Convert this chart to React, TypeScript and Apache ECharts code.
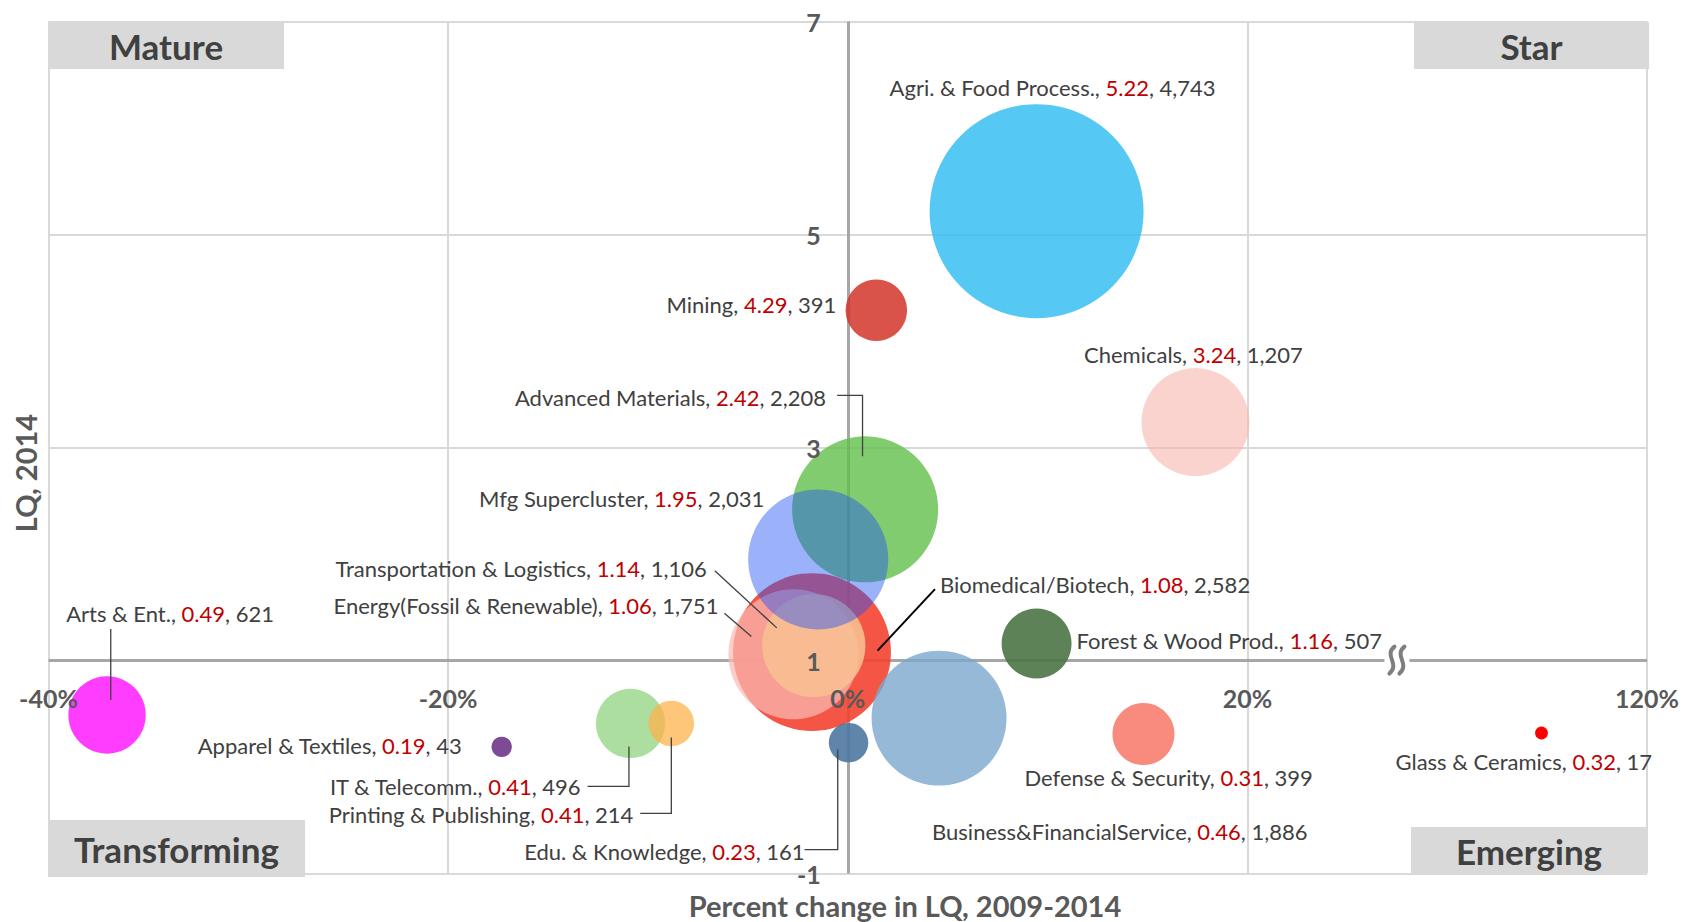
import React, { useEffect, useRef } from "react";
import * as echarts from "echarts";

// ---------- data ----------
const CLUSTERS = [
  "Agri. & Food Process.",
  "Mining",
  "Chemicals",
  "Advanced Materials",
  "Biomedical/Biotech",
  "Energy(Fossil & Renewable)",
  "Transportation & Logistics",
  "Mfg Supercluster",
  "Forest & Wood Prod.",
  "Arts & Ent.",
  "Apparel & Textiles",
  "IT & Telecomm.",
  "Printing & Publishing",
  "Edu. & Knowledge",
  "Business&FinancialService",
  "Defense & Security",
  "Glass & Ceramics",
];
// percent change in LQ, 2009-2014
const PCT_CHANGE = [9.45, 1.43, 17.4, 0.87, -1.79, -2.72, -1.7, -1.48, 9.45, -37.07, -17.32, -10.87, -8.83, 0.04, 4.57, 14.8, 93.6];
// LQ, 2014
const LQ_2014 = [5.22, 4.29, 3.24, 2.42, 1.08, 1.06, 1.14, 1.95, 1.16, 0.49, 0.19, 0.41, 0.41, 0.23, 0.46, 0.31, 0.32];
// employment
const EMPLOYMENT = [4743, 391, 1207, 2208, 2582, 1751, 1106, 2031, 507, 621, 43, 496, 214, 161, 1886, 399, 17];

const X_TICK_LABELS = ["-40%", "-20%", "0%", "20%", "120%"];
const Y_TICK_LABELS = ["-1", "1", "3", "5", "7"];

// ---------- styles ----------
const COLORS = [
  "rgba(44,186,241,0.8)",
  "rgba(210,53,42,0.85)",
  "rgba(247,180,173,0.6)",
  "rgba(96,191,74,0.8)",
  "rgba(244,66,49,0.9)",
  "rgba(249,187,180,0.72)",
  "rgba(248,192,146,0.88)",
  "rgba(34,85,244,0.45)",
  "rgba(76,116,69,0.9)",
  "rgba(255,51,255,0.95)",
  "rgba(118,64,142,0.95)",
  "rgba(151,214,136,0.8)",
  "rgba(252,179,75,0.75)",
  "rgba(78,120,162,0.9)",
  "rgba(124,168,205,0.8)",
  "rgba(247,122,108,0.88)",
  "rgba(255,0,0,1)",
];
// label anchor offset from bubble centre [dx, dy, align]
const LABEL_LAYOUT: [number, number, string][] = [
  [16, -124, "center"],
  [-40, -6, "right"],
  [-2, -68, "center"],
  [-39, -112, "right"],
  [128, -68, "left"],
  [-75, -49, "right"],
  [-107, -77, "right"],
  [-54, -61, "right"],
  [40, -3, "left"],
  [63, -101, "center"],
  [-40, -1, "right"],
  [-50, 63, "right"],
  [-38, 91, "right"],
  [-44, 109, "right"],
  [-7, 113, "left"],
  [-119, 43, "left"],
  [-146, 28, "left"],
];
// leader lines relative to bubble centre
const LEADERS: ([number, number][] | null)[] = [
  null,
  null,
  null,
  [[-28, -114], [-2.6, -114], [-2.6, -53]],
  [[123, -63], [65.6, -1.5]],
  [[-69, -41], [-42, -17.6]],
  [[-99, -75], [-37, -17.8]],
  null,
  null,
  [[3.7, -86], [3.7, -15]],
  null,
  [[-43, 63], [-1.6, 63], [-1.6, 23]],
  [[-31, 90], [0, 90], [0, 14]],
  [[-44, 107], [-10.8, 107], [-10.8, 7]],
  null,
  null,
  null,
];

const FONT = "Lato";
const LABEL_SIZE = 22;
const BUBBLE_SCALE = 3.107; // px diameter per sqrt(employment)
const BREAK_AT = 27.46; // plot units where the axis break sits

const W = 1691;
const H = 922;
const GRID = { left: 48.5, right: 44, top: 21.6, bottom: 48.4 };
const X_MIN = -40, X_MAX = 40, X_STEP = 20;
const Y_MIN = -2, Y_MAX = 6, Y_STEP = 2;

// axis break: 20%..120% compressed into one grid step
const toPlotX = (p: number) => (p <= 20 ? p : 20 + (p - 20) / 5);
const toPlotY = (lq: number) => lq - 1;

export default function App() {
  const ref = useRef<HTMLDivElement>(null);

  useEffect(() => {
    document.body.style.margin = "0";
    if (!ref.current) return;
    const chart = echarts.init(ref.current, undefined, { renderer: "svg" });

    const data = CLUSTERS.map((name, i) => {
      const [dx, dy, align] = LABEL_LAYOUT[i];
      return {
        name,
        value: [toPlotX(PCT_CHANGE[i]), toPlotY(LQ_2014[i]), EMPLOYMENT[i]],
        itemStyle: { color: COLORS[i], opacity: 1 },
        label: {
          show: true,
          position: "inside",
          align,
          verticalAlign: "middle",
          offset: [dx, dy],
          formatter: `{n|${name}, }{r|${LQ_2014[i].toFixed(2)}}{n|, ${EMPLOYMENT[i].toLocaleString("en-US")}}`,
        },
      };
    });

    const gridW = W - GRID.left - GRID.right;
    const gridH = H - GRID.top - GRID.bottom;
    // move the tick-label axes onto the crossing lines (x = 0%, LQ = 1)
    const xAxisOffset = -gridH * (0 - Y_MIN) / (Y_MAX - Y_MIN);
    const yAxisOffset = -gridW * (0 - X_MIN) / (X_MAX - X_MIN);

    const xCommon = { type: "value", min: X_MIN, max: X_MAX, interval: X_STEP };
    const yCommon = { type: "value", min: Y_MIN, max: Y_MAX, interval: Y_STEP };
    const tickLabel = {
      color: "#595959",
      fontFamily: FONT,
      fontWeight: "bold",
      fontSize: 25,
    };

    chart.setOption({
      animation: false,
      grid: { ...GRID, containLabel: false },
      xAxis: [
        {
          ...xCommon,
          position: "bottom",
          offset: xAxisOffset,
          z: 20,
          axisLine: { show: false, onZero: false },
          axisTick: { show: false },
          splitLine: { show: false },
          axisLabel: {
            ...tickLabel,
            show: true,
            margin: 25,
            formatter: (v: number) => X_TICK_LABELS[Math.round((v - X_MIN) / X_STEP)],
          },
        },
        {
          ...xCommon,
          position: "top",
          z: 0,
          axisLine: { show: false },
          axisTick: { show: false },
          axisLabel: { show: false },
          splitLine: { show: true, lineStyle: { color: "#d9d9d9", width: 2 } },
        },
      ],
      yAxis: [
        {
          ...yCommon,
          position: "left",
          offset: yAxisOffset,
          z: 20,
          axisLine: { show: false, onZero: false },
          axisTick: { show: false },
          splitLine: { show: false },
          axisLabel: {
            ...tickLabel,
            show: true,
            margin: 27,
            formatter: (v: number) => Y_TICK_LABELS[Math.round((v - Y_MIN) / Y_STEP)],
          },
        },
        {
          ...yCommon,
          position: "right",
          z: 0,
          axisLine: { show: false },
          axisTick: { show: false },
          axisLabel: { show: false },
          splitLine: { show: true, lineStyle: { color: "#d9d9d9", width: 2 } },
        },
      ],
      series: [
        {
          // quadrant dividing axes (under the bubbles)
          type: "line",
          xAxisIndex: 0,
          yAxisIndex: 0,
          z: 1,
          data: [],
          silent: true,
          markLine: {
            silent: true,
            symbol: ["none", "none"],
            label: { show: false },
            lineStyle: { color: "#a6a6a6", width: 3, type: "solid" },
            data: [{ xAxis: 0 }, { yAxis: 0 }],
          },
        },
        {
          type: "scatter",
          xAxisIndex: 0,
          yAxisIndex: 0,
          z: 5,
          clip: false,
          symbol: "circle",
          symbolSize: (val: number[]) => BUBBLE_SCALE * Math.sqrt(val[2]),
          data,
          itemStyle: { opacity: 1 },
          label: {
            fontFamily: FONT,
            fontSize: LABEL_SIZE,
            textBorderWidth: 0,
            rich: {
              n: { color: "#404040", fontFamily: FONT, fontSize: LABEL_SIZE },
              r: { color: "#c00000", fontFamily: FONT, fontSize: LABEL_SIZE },
            },
          },
          emphasis: { disabled: true },
        },
      ],
    });

    const graphics: any[] = [];
    // leader lines
    CLUSTERS.forEach((_, i) => {
      const pts = LEADERS[i];
      if (!pts) return;
      const c = chart.convertToPixel({ gridIndex: 0 }, [toPlotX(PCT_CHANGE[i]), toPlotY(LQ_2014[i])]) as number[];
      const isBio = CLUSTERS[i] === "Biomedical/Biotech";
      graphics.push({
        type: "polyline",
        z: 50,
        silent: true,
        shape: { points: pts.map(([dx, dy]) => [c[0] + dx, c[1] + dy]) },
        style: { stroke: isBio ? "#000000" : "#404040", lineWidth: isBio ? 2 : 1.3, fill: null },
      });
    });

    // axis break symbol
    const b = chart.convertToPixel({ gridIndex: 0 }, [BREAK_AT, 0]) as number[];
    graphics.push({
      type: "rect",
      z: 40,
      silent: true,
      shape: { x: b[0] - 12, y: b[1] - 3, width: 25, height: 6 },
      style: { fill: "#ffffff" },
    });
    [-5, 5].forEach((off) => {
      const cx = b[0] + off;
      const cy = b[1];
      graphics.push({
        type: "bezierCurve",
        z: 41,
        silent: true,
        shape: {
          x1: cx + 3, y1: cy - 14,
          cpx1: cx - 8, cpy1: cy - 5,
          cpx2: cx + 9, cpy2: cy + 3,
          x2: cx - 2, y2: cy + 13,
        },
        style: { stroke: "#7f7f7f", lineWidth: 4, fill: null, lineCap: "round" },
      });
    });

    // quadrant labels
    const quad = (text: string, x: number, y: number, w: number, h: number) => ({
      type: "group",
      z: 60,
      silent: true,
      children: [
        { type: "rect", shape: { x, y, width: w, height: h }, style: { fill: "#d9d9d9" } },
        {
          type: "text",
          x: x + w / 2,
          y: y + h / 2,
          style: {
            text,
            font: `bold 35px ${FONT}`,
            fill: "#404040",
            align: "center",
            verticalAlign: "middle",
          },
        },
      ],
    });
    graphics.push(quad("Mature", 48, 22, 236, 47));
    graphics.push(quad("Star", 1414, 22, 235, 47));
    graphics.push(quad("Transforming", 48, 820, 257, 57));
    graphics.push(quad("Emerging", 1411, 827, 236, 47));

    // axis titles
    graphics.push({
      type: "text",
      z: 60,
      silent: true,
      x: 25,
      y: 473,
      rotation: Math.PI / 2,
      style: { text: "LQ, 2014", font: `bold 29px ${FONT}`, fill: "#595959", align: "center", verticalAlign: "middle" },
    });
    graphics.push({
      type: "text",
      z: 60,
      silent: true,
      x: 905,
      y: 905,
      style: {
        text: "Percent change in LQ, 2009-2014",
        font: `bold 29px ${FONT}`,
        fill: "#595959",
        align: "center",
        verticalAlign: "middle",
      },
    });

    chart.setOption({ graphic: graphics });

    return () => chart.dispose();
  }, []);

  return <div ref={ref} style={{ width: W, height: H }} />;
}
